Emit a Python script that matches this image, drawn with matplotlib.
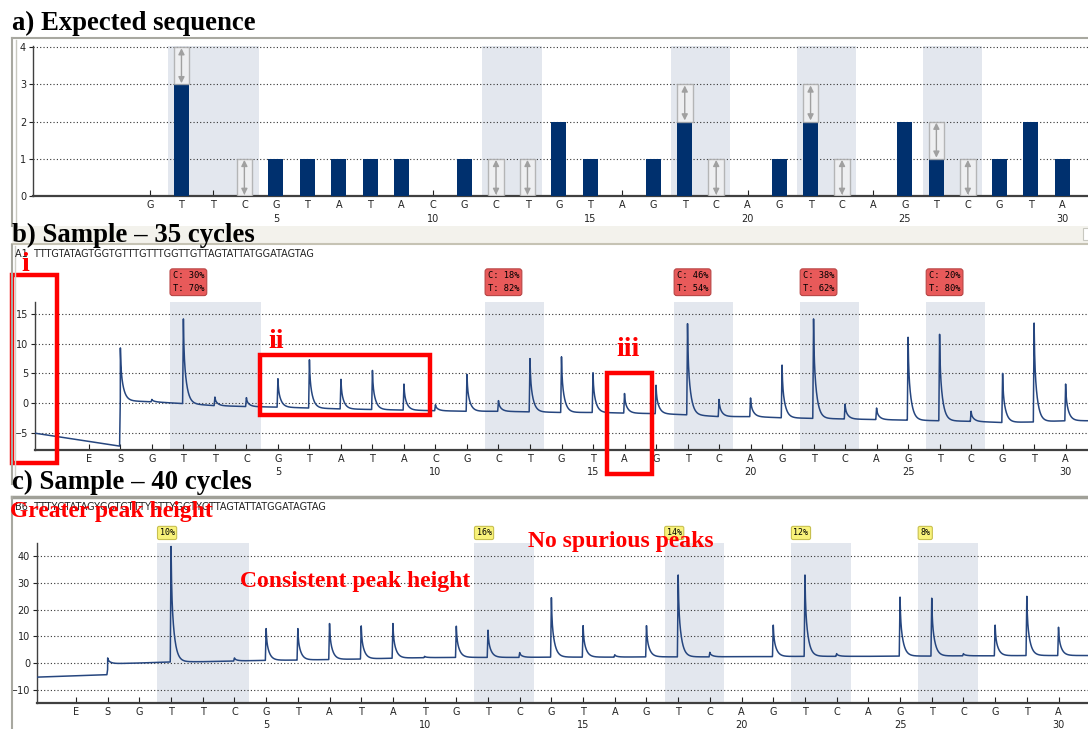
import numpy as np
import matplotlib
matplotlib.use("Agg")
import matplotlib.pyplot as plt
from matplotlib.patches import Rectangle

nan = np.nan
W, H = 1088, 729

# ---------------- data ----------------
a_letters = list("GTTCGTATACGCTGTAGTCAGTCAGTCGTA")
a_values = [0, 3, 0, 0, 1, 1, 1, 1, 1, 0, 1, 0, 0, 2, 1, 0, 1, 2, 0, 0,
            1, 2, 0, 0, 2, 1, 0, 1, 2, 1]
a_var_positions = [2, 4, 12, 13, 18, 19, 22, 23, 26, 27]

shade_first = [2, 12, 18, 22, 26]
shade_last = [4, 13, 19, 23, 27]

b_letters = ["E", "S"] + list("GTTCGTATACGCTGTAGTCAGTCAGTCGTA")
b_lead = [-5.1, -7.3]
b_level = [nan, 0.4, 0.2, -0.1, -0.45, -0.6, -0.7, -0.85, -1.0, -1.1, -1.2, -1.3,
           -1.4, -1.4, -1.5, -1.6, -1.6, -1.7, -1.8, -2.0, -2.3, -2.3,
           -2.5, -2.6, -2.7, -2.8, -2.9, -3.0, -3.1, -3.3, -3.2, -3.0]
b_peak = [nan, 9.3, 0.6, 14.2, 1.0, 0.9, 4.1, 7.3, 4.0, 5.5, 3.2, -0.3,
          4.8, 0.4, 7.5, 7.8, 5.1, 1.6, 3.0, 13.4, 0.6, 0.85,
          6.4, 14.2, -0.2, -0.85, 11.1, 11.6, -1.4, 5.0, 13.5, 3.2]
b_labels = ["C: 30%\nT: 70%", "C: 18%\nT: 82%", "C: 46%\nT: 54%",
            "C: 38%\nT: 62%", "C: 20%\nT: 80%"]
b_seq = "A1  TTTGTATAGTGGTGTTTGTTTGGTTGTTAGTATTATGGATAGTAG"

c_letters = ["E", "S"] + list("GTTCGTATATGTCGTAGTCAGTCAGTCGTA")
c_lead = [-5.3, -4.4]
c_level = [nan, -0.3, 0.0, 0.4, 0.5, 0.75, 1.0, 1.1, 1.3, 1.5, 1.8, 2.0,
           2.1, 2.1, 2.1, 2.2, 2.2, 2.2, 2.3, 2.3, 2.3, 2.4,
           2.4, 2.5, 2.5, 2.5, 2.6, 2.6, 2.7, 2.7, 2.8, 2.8]
c_peak = [nan, 1.9, nan, 43.7, nan, 1.9, 12.9, 12.9, 14.8, 13.9, 14.8, 2.5,
          13.8, 12.3, 3.9, 24.5, 14.0, 3.1, 14.0, 33.0, 4.0, nan,
          14.2, 33.0, 3.5, nan, 24.7, 24.3, 3.5, 14.2, 25.0, 13.4]
c_labels = ["10%", "16%", "14%", "12%", "8%"]
c_seq = "B6  TTTYGTATAGYGGTGTTTYGTTYGGTYGTTAGTATTATGGATAGTAG"

# ---------------- styles ----------------
NAVY = "#00306e"
TRACE = "#26467f"
SHADE = "#e3e7ee"
GRID = "#333333"
SERIF = ["Liberation Serif", "DejaVu Serif"]

fig = plt.figure(figsize=(W / 100, H / 100), dpi=100)
fig.patch.set_facecolor("white")


def pos(l, t, r, b):
    return [l / W, 1 - b / H, (r - l) / W, (b - t) / H]


def style_axes(ax, yticks):
    for s in ["top", "right"]:
        ax.spines[s].set_visible(False)
    ax.spines["left"].set_color("#404040")
    ax.spines["bottom"].set_color("#404040")
    ax.spines["left"].set_linewidth(1.0)
    ax.spines["bottom"].set_linewidth(1.6)
    ax.set_yticks(yticks)
    ax.tick_params(axis="y", direction="out", length=3, labelsize=7,
                   colors="#222222", pad=2)
    ax.tick_params(axis="x", direction="in", length=4, labelsize=7,
                   colors="#222222", pad=3)
    ax.set_axisbelow(True)
    ax.grid(axis="y", linestyle=(0, (1, 2)), color=GRID, linewidth=0.8)
    ax.grid(axis="x", visible=False)
    ax.set_facecolor("none")


def shades(ax):
    for f, l in zip(shade_first, shade_last):
        ax.axvspan(f - 0.43, l + 0.45, color=SHADE, zorder=0.1, lw=0)


def numbers(ax, off):
    for p in range(5, 31, 5):
        ax.annotate(str(p), xy=(p, 0), xycoords=("data", "axes fraction"),
                    xytext=(0, -off), textcoords="offset points",
                    ha="center", va="center", fontsize=7, color="#222222")


def trace(ax, xlim, lead, levels, peaks):
    posn = np.arange(-1, len(levels) - 1)
    xs = np.linspace(xlim[0], xlim[1], 12000)
    xs = np.unique(np.concatenate([xs, posn.astype(float)]))
    kx = [xlim[0], -0.001]
    ky = [lead[0], lead[1]]
    for p, lv in zip(posn, levels):
        if not np.isnan(lv):
            kx.append(p)
            ky.append(lv)
    kx.append(xlim[1])
    ky.append(levels[-1])
    y = np.interp(xs, kx, ky)
    for p, pk, lv in zip(posn, peaks, levels):
        if np.isnan(pk):
            continue
        h = pk - lv
        t = xs - p
        g = np.where(t < -0.025, 0.0,
                     np.where(t < 0, (t + 0.025) / 0.025,
                              0.3 * np.exp(-t / 0.015) + 0.7 * np.exp(-t / 0.095)))
        y = y + h * g
    ax.plot(xs, y, color=TRACE, lw=1.1, zorder=3)


# ---------------- panel a ----------------
ax_a = fig.add_axes(pos(33, 46, 1088, 196))
xa = (-2.72, 30.82)
ax_a.set_xlim(*xa)
ax_a.set_ylim(0, 4.03)
style_axes(ax_a, [0, 1, 2, 3, 4])
shades(ax_a)
pa = np.arange(1, 31)
ax_a.bar(pa, a_values, width=0.48, color=NAVY, zorder=3)
for p in a_var_positions:
    v = a_values[p - 1]
    ax_a.add_patch(Rectangle((p - 0.25, v), 0.5, 1, fc="#f2f2f2", ec="#a8a8a8",
                             lw=1.0, alpha=0.8, zorder=4))
    ax_a.annotate("", xy=(p, v + 0.97), xytext=(p, v + 0.03),
                  arrowprops=dict(arrowstyle="<|-|>", color="#a0a0a0", lw=1.0,
                                  mutation_scale=9, shrinkA=0, shrinkB=0),
                  zorder=5)
ax_a.set_xticks(pa)
ax_a.set_xticklabels(a_letters)
numbers(ax_a, 16.5)

# ---------------- panel b ----------------
ax_b = fig.add_axes(pos(35, 302, 1088, 450))
xb = (-2.71, 30.71)
ax_b.set_xlim(*xb)
ax_b.set_ylim(-7.94, 17.06)
style_axes(ax_b, [-5, 0, 5, 10, 15])
shades(ax_b)
trace(ax_b, xb, b_lead, b_level, b_peak)
pb = np.arange(-1, 31)
ax_b.set_xticks(pb)
ax_b.set_xticklabels(b_letters)
numbers(ax_b, 15.5)
for f, lab in zip(shade_first, b_labels):
    ax_b.annotate(lab, xy=(f - 0.43, 1), xycoords=("data", "axes fraction"),
                  xytext=(2, 6.5), textcoords="offset points", ha="left", va="bottom",
                  fontsize=6.3, family="DejaVu Sans Mono", linespacing=1.5,
                  bbox=dict(boxstyle="round,pad=0.3,rounding_size=0.3",
                            fc="#e85a5a", ec="#b84444", lw=0.8))

# ---------------- panel c ----------------
ax_c = fig.add_axes(pos(37, 543, 1088, 703))
xc = (-2.23, 30.93)
ax_c.set_xlim(*xc)
ax_c.set_ylim(-15, 45)
style_axes(ax_c, [-10, 0, 10, 20, 30, 40])
shades(ax_c)
trace(ax_c, xc, c_lead, c_level, c_peak)
pc = np.arange(-1, 31)
ax_c.set_xticks(pc)
ax_c.set_xticklabels(c_letters)
numbers(ax_c, 16)
for f, lab in zip(shade_first, c_labels):
    ax_c.annotate(lab, xy=(f - 0.45, 1), xycoords=("data", "axes fraction"),
                  xytext=(2, 4), textcoords="offset points", ha="left", va="bottom",
                  fontsize=6.0, family="DejaVu Sans Mono",
                  bbox=dict(boxstyle="round,pad=0.25,rounding_size=0.2",
                            fc="#f8f27a", ec="#c8c050", lw=0.8))

# ---------------- overlay (frames, titles, annotations) ----------------
ov = fig.add_axes([0, 0, 1, 1], zorder=10)
ov.set_xlim(0, W)
ov.set_ylim(H, 0)
ov.axis("off")
ov.set_facecolor("none")

# panel a frame
ov.plot([12, W], [38, 38], color="#a8a8a0", lw=1.5)
ov.plot([12, 12], [38, 226], color="#a8a8a0", lw=1.5)
ov.plot([16, 16], [40, 226], color="#c8c8c0", lw=1.0)
# band between a and b
ov.add_patch(Rectangle((12, 226), W - 12, 17, fc="#f3f2ec", ec="none"))
ov.plot([12, W], [243.5, 243.5], color="#c6c3b4", lw=1.5)
ov.add_patch(Rectangle((1083, 228), 6, 12, fc="#ffffff", ec="#c8c8c0", lw=0.8))
# panel b frame
ov.plot([12, 12], [245, 484], color="#a8a8a0", lw=1.5)
ov.plot([15, 15], [246, 484], color="#d0d0c8", lw=1.0)
# panel c frame
ov.plot([12, W], [497, 497], color="#a0a098", lw=2.5)
ov.plot([12, 12], [497, H], color="#a8a8a0", lw=1.5)

# titles
for ty, tt in [(23, "a) Expected sequence"), (235, "b) Sample \u2013 35 cycles"),
               (482, "c) Sample \u2013 40 cycles")]:
    ov.text(12, ty, tt, fontsize=19.3, fontweight="bold", family=SERIF,
            va="center", ha="left", color="black")

# sequence strings
ov.text(15, 254, b_seq, fontsize=7, va="center", ha="left", color="#222222")
ov.text(15, 507, c_seq, fontsize=7, va="center", ha="left", color="#222222")

# red annotations
RED = "#ff0000"
for (l, t, r, b) in [(12, 275, 57, 463), (260, 355, 430, 415), (607, 373, 652, 474)]:
    ov.add_patch(Rectangle((l, t), r - l, b - t, fill=False, ec=RED, lw=3.2))
ov.text(25, 264, "i", fontsize=20, fontweight="bold", family=SERIF,
        color=RED, ha="center", va="center")
ov.text(276, 341, "ii", fontsize=20, fontweight="bold", family=SERIF,
        color=RED, ha="center", va="center")
ov.text(628, 349, "iii", fontsize=20, fontweight="bold", family=SERIF,
        color=RED, ha="center", va="center")
ov.text(10, 512, "Greater peak height", fontsize=17, fontweight="bold",
        family=SERIF, color=RED, ha="left", va="center")
ov.text(240, 581, "Consistent peak height", fontsize=17, fontweight="bold",
        family=SERIF, color=RED, ha="left", va="center")
ov.text(528, 542, "No spurious peaks", fontsize=17, fontweight="bold",
        family=SERIF, color=RED, ha="left", va="center")

fig.savefig("out.png", dpi=100, facecolor="white")
